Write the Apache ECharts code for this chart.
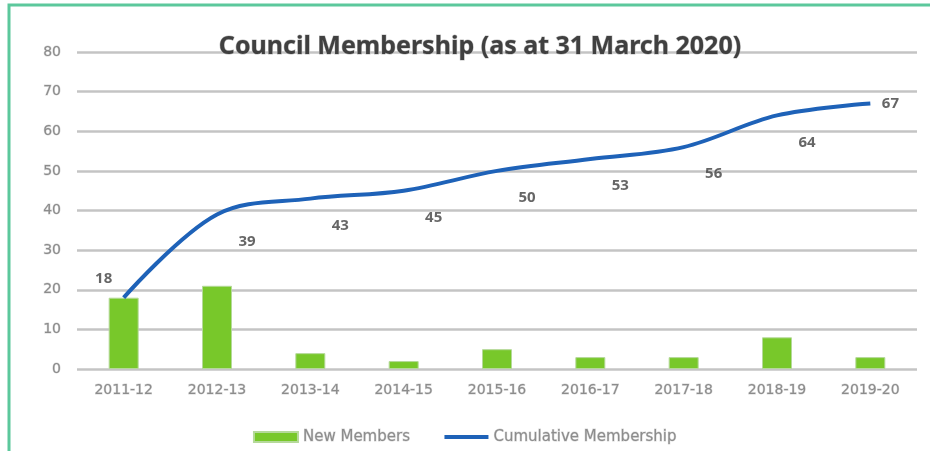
<!DOCTYPE html>
<html><head><meta charset="utf-8">
<script src="https://cdn.jsdelivr.net/npm/echarts@6/dist/echarts.min.js"></script>
<style>html,body{margin:0;padding:0;background:#fff}#c{width:930px;height:451px}</style>
</head><body><div id="c"></div>
<script>
var categories = ['2011-12','2012-13','2013-14','2014-15','2015-16','2016-17','2017-18','2018-19','2019-20'];
var newMembers = [18, 21, 4, 2, 5, 3, 3, 8, 3];
var cumulative = [18, 39, 43, 45, 50, 53, 56, 64, 67];
var yTicks = [0, 10, 20, 30, 40, 50, 60, 70, 80];

var chart = echarts.init(document.getElementById('c'));
var labelData = cumulative.map(function(v, i){
  var lab;
  if (i === 0) lab = {position:'top', offset:[-20,-6]};
  else if (i === cumulative.length-1) lab = {position:'right', offset:[6,0]};
  else lab = {position:'bottom', offset:[30,14]};
  return {value: v, label: lab};
});
var axisFont = {color:'#8c8c8c', fontSize:14, fontFamily:'DejaVu Sans',
  textBorderColor:'#d8d8d8', textBorderWidth:1};
chart.setOption({
  animation:false,
  title:{text:'Council Membership (as at 31 March 2020)', left:475, top:29, textAlign:'center',
    textStyle:{fontFamily:'Noto Sans', fontSize:25, fontWeight:'bold', color:'#404040',
      textBorderColor:'#c0c0c0', textBorderWidth:1}},
  graphic:[{type:'rect', shape:{x:9, y:5, width:940, height:460},
    style:{fill:'none', stroke:'#5cc89c', lineWidth:3}, silent:true}],
  legend:{bottom:1, left:'center', itemGap:34, itemWidth:44, itemHeight:10,
    textStyle:{color:'#8c8c8c', fontFamily:'DejaVu Sans', fontSize:15,
      textBorderColor:'#d8d8d8', textBorderWidth:1},
    data:[{name:'New Members', icon:'rect'},
          {name:'Cumulative Membership', icon:'path://M0,0 L100,0 L100,9 L0,9 Z'}]},
  grid:{left:77, right:13, top:52, bottom:82},
  xAxis:{type:'category', data:categories,
    axisLine:{show:false}, axisTick:{show:false},
    axisLabel:Object.assign({margin:14}, axisFont)},
  yAxis:{type:'value', min:0, max:80, interval:10,
    axisLabel:Object.assign({margin:16,
      formatter:function(v){return yTicks.indexOf(v)>=0 ? String(v) : '';}}, axisFont),
    splitLine:{lineStyle:{color:'#c4c4c4', width:2.5}}},
  series:[
    {name:'New Members', type:'bar', data:newMembers, barWidth:30,
      itemStyle:{color:'#78c82a', borderColor:'#b5d99a', borderWidth:1}},
    {name:'Cumulative Membership', type:'line', data:cumulative, smooth:0.35,
      symbol:'none', lineStyle:{color:'#1e62b8', width:4},
      itemStyle:{color:'#1e62b8'}},
    {name:'labels', type:'scatter', data:labelData, symbolSize:1,
      itemStyle:{color:'rgba(0,0,0,0)'}, silent:true, z:5,
      label:{show:true, color:'#404040', fontSize:15, fontWeight:'bold', fontFamily:'Noto Sans'}}
  ]
});
</script></body></html>
